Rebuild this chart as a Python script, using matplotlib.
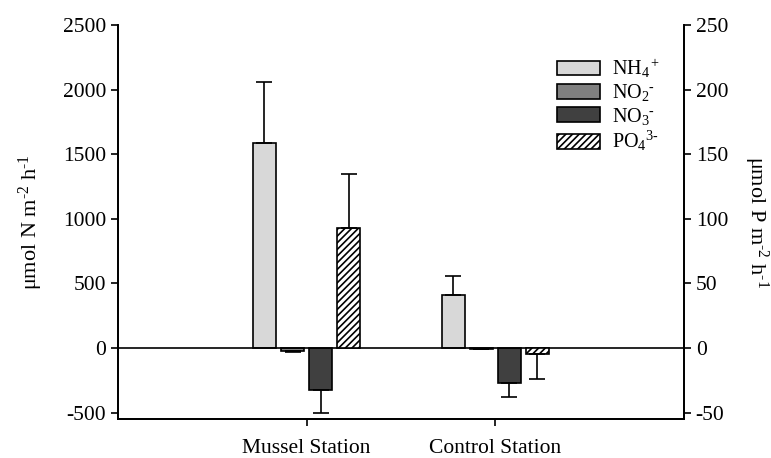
import numpy as np
import matplotlib
matplotlib.use('Agg')
from matplotlib import pyplot as plt
from matplotlib.patches import Patch

plt.rcParams['font.family'] = ['Liberation Serif', 'DejaVu Serif']
plt.rcParams['mathtext.fontset'] = 'custom'
plt.rcParams['mathtext.rm'] = 'Liberation Serif'
plt.rcParams['mathtext.it'] = 'Liberation Serif:italic'
plt.rcParams['axes.unicode_minus'] = False
plt.rcParams['hatch.linewidth'] = 1.2

stations = ['Mussel Station', 'Control Station']
# nitrogen fluxes (left axis)
nh4 = [1590, 410]
nh4_err = [470, 150]
no2 = [-25, -5]
no2_err = [8, 2]
no3 = [-325, -270]
no3_err = [180, 110]
# phosphate flux (right axis)
po4 = [93, -4.5]
po4_err = [42, 19.5]

fig = plt.figure(figsize=(7.71, 4.58), dpi=100)
ax = fig.add_axes([0.153, 0.085, 0.734, 0.86])
ax2 = ax.twinx()

x = np.arange(len(stations))
w = 0.122
step = 0.149
ek = dict(lw=1.2, capsize=6, capthick=1.2, ecolor='k')

def bars(a, off, vals, errs, color, hatch=None):
    for xi, v, e in zip(x, vals, errs):
        yerr = [[0], [e]] if v >= 0 else [[e], [0]]
        a.bar(xi + off, v, w, color=color, edgecolor='k', lw=1.2, hatch=hatch,
              yerr=yerr, error_kw=ek, zorder=3)

bars(ax, -1.5 * step, nh4, nh4_err, '#d8d8d8')
bars(ax, -0.5 * step, no2, no2_err, '#808080')
bars(ax, 0.5 * step, no3, no3_err, '#404040')
bars(ax2, 1.5 * step, po4, po4_err, 'white', hatch='/////')

ax.axhline(0, color='k', lw=1.2, zorder=4)
ax.set_xlim(-1, 2)
ax.set_ylim(-550, 2500)
ax2.set_ylim(-55, 250)
ax.set_yticks(np.arange(-500, 2501, 500))
ax2.set_yticks(np.arange(-50, 251, 50))
ax.set_xticks(x)
ax.set_xticklabels(stations)

for a in (ax, ax2):
    a.spines['top'].set_visible(False)
    for s in a.spines.values():
        s.set_linewidth(1.3)
    a.tick_params(labelsize=15.5, width=1.2, length=5, direction='out')
ax.tick_params(axis='x', pad=9)

ax.set_ylabel('μmol N m$^{\\text{-2}}$ h$^{\\text{-1}}$', fontsize=16, labelpad=13)
ax2.set_ylabel('μmol P m$^{\\text{-2}}$ h$^{\\text{-1}}$', fontsize=16,
               rotation=270, labelpad=30)

handles = [Patch(facecolor='#d8d8d8', edgecolor='k', lw=1.2),
           Patch(facecolor='#808080', edgecolor='k', lw=1.2),
           Patch(facecolor='#404040', edgecolor='k', lw=1.2),
           Patch(facecolor='white', edgecolor='k', lw=1.2, hatch='/////')]
labels = ['NH$_4$$^+$', 'NO$_2$$^{\\text{-}}$', 'NO$_3$$^{\\text{-}}$', 'PO$_4$$^{\\text{3-}}$']
ax2.legend(handles, labels, loc='upper left', bbox_to_anchor=(0.762, 0.94), frameon=False,
           fontsize=14.5, handlelength=2.1, handleheight=0.75, labelspacing=0.12,
           handletextpad=0.6, borderaxespad=0)

fig.savefig('out.png', dpi=100)
